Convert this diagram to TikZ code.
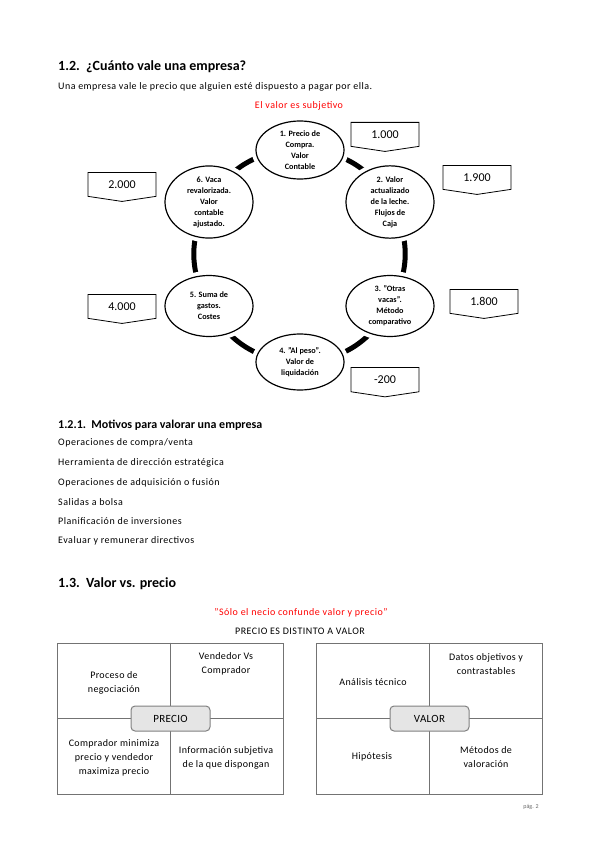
\documentclass[tikz,border=0pt]{standalone}
\usepackage{fontspec}
\setmainfont{Carlito}
\usetikzlibrary{positioning,shapes.geometric,shapes.symbols,backgrounds}

\begin{document}
\begin{tikzpicture}[
  x=1pt, y=-1pt,
  heading/.style={anchor=west, inner sep=0pt, font=\bfseries\fontsize{14}{16}\selectfont},
  subhead/.style={anchor=west, inner sep=0pt, font=\bfseries\fontsize{12}{14}\selectfont},
  body/.style={anchor=west, inner sep=0pt, font=\fontsize{10}{12}\selectfont\addfontfeatures{LetterSpace=4.5}},
  item/.style={anchor=west, inner sep=0pt, font=\fontsize{10}{12}\selectfont\addfontfeatures{LetterSpace=5}},
  redtext/.style={inner sep=0pt, text=red, font=\fontsize{10}{12}\selectfont\addfontfeatures{LetterSpace=5}},
  stage/.style={ellipse, draw, line width=1.2pt, fill=white, minimum width=88pt, minimum height=58pt,
    preaction={draw=white, line width=9pt},
    inner sep=0pt, align=center, font=\bfseries\fontsize{8.2}{11}\selectfont},
  valbox/.style={signal, signal to=south, signal pointer angle=163, draw, line width=0.8pt,
    minimum width=68pt, minimum height=26pt, anchor=north, inner sep=0pt, font=\fontsize{12}{14}\selectfont},
  link/.style={line width=5pt},
  frame/.style={draw=black!55, line width=0.8pt, minimum width=226pt, minimum height=151pt},
  quadline/.style={draw=black!55, line width=0.8pt},
  quadtext/.style={align=center, inner sep=0pt, font=\fontsize{10}{13.7}\selectfont\addfontfeatures{LetterSpace=3.5}},
  tag/.style={draw=black!50, line width=1pt, fill=black!10, rounded corners=4pt,
    minimum width=79pt, minimum height=25pt, font=\fontsize{11}{13}\selectfont\addfontfeatures{LetterSpace=3}}
]
\useasboundingbox (0,0) rectangle (599,848);

% Section 1.2
\node[heading] (h12) at (58,67) {1.2.\ \ ¿Cuánto vale una empresa?};
\node[body] (intro) at (58,87) {Una empresa vale le precio que alguien esté dispuesto a pagar por ella.};
\node[redtext] (subj) at (299,106) {El valor es subjetivo};

% Cycle
\node[stage] (s1) at (300,150) {1. Precio de\\Compra.\\Valor\\Contable};
\node[stage, minimum height=61pt] (s2) at (390,202) {2. Valor\\actualizado\\de la leche.\\Flujos de\\Caja};
\node[stage, minimum height=61pt] (s3) at (390,306) {3. "Otras\\vacas".\\Método\\comparativo};
\node[stage, minimum height=56pt] (s4) at (300,362) {4. "Al peso".\\Valor de\\liquidación};
\node[stage, minimum height=61pt] (s5) at (209,306) {5. Suma de\\gastos.\\Costes};
\node[stage] (s6) at (209,202) {6. Vaca\\revalorizada.\\Valor\\contable\\ajustado.};

% ring behind the stages
\begin{scope}[on background layer]
  \draw[link] (s1.center) to[bend left=30] (s2.center);
  \draw[link] (s2.center) to[bend left=30] (s3.center);
  \draw[link] (s3.center) to[bend left=30] (s4.center);
  \draw[link] (s4.center) to[bend left=30] (s5.center);
  \draw[link] (s5.center) to[bend left=30] (s6.center);
  \draw[link] (s6.center) to[bend left=30] (s1.center);
\end{scope}

% Values
\node[valbox] (v1) at (385,122) {1.000};
\node[valbox] (v2) at (477,165) {1.900};
\node[valbox] (v3) at (484,289) {1.800};
\node[valbox] (v4) at (385,367) {-200};
\node[valbox] (v5) at (122,294) {4.000};
\node[valbox] (v6) at (122,172) {2.000};

% Section 1.2.1
\node[subhead] (h121) at (58,425) {1.2.1.\ \ Motivos para valorar una empresa};
\node[item] (m1) at (58,443) {Operaciones de compra/venta};
\node[item] (m2) at (58,463) {Herramienta de dirección estratégica};
\node[item] (m3) at (58,483) {Operaciones de adquisición o fusión};
\node[item] (m4) at (58,502) {Salidas a bolsa};
\node[item] (m5) at (58,521) {Planificación de inversiones};
\node[item] (m6) at (58,541) {Evaluar y remunerar directivos};

% Section 1.3
\node[heading] (h13) at (58,584) {1.3.\ \ Valor vs. precio};
\node[redtext] (quote) at (301,613) {"Sólo el necio confunde valor y precio"};
\node[item, anchor=center] (dist) at (300,631) {PRECIO ES DISTINTO A VALOR};

% Precio
\node[frame] (pf) at (170.5,718.5) {};
\draw[quadline] (pf.north) -- (pf.south);
\draw[quadline] (pf.west) -- (pf.east);
\node[quadtext] (p1) at (114,683) {Proceso de\\negociación};
\node[quadtext] (p2) at (226,664) {Vendedor Vs\\Comprador};
\node[quadtext] (p3) at (114,758) {Comprador minimiza\\precio y vendedor\\maximiza precio};
\node[quadtext] (p4) at (226,758) {Información subjetiva\\de la que dispongan};
\node[tag] (precio) at (pf.center) {PRECIO};

% Valor
\node[frame] (vf) at (429.5,718.5) {};
\draw[quadline] (vf.north) -- (vf.south);
\draw[quadline] (vf.west) -- (vf.east);
\node[quadtext] (q1) at (373,682) {Análisis técnico};
\node[quadtext] (q2) at (486,664) {Datos objetivos y\\contrastables};
\node[quadtext] (q3) at (372,757) {Hipótesis};
\node[quadtext] (q4) at (486,757) {Métodos de\\valoración};
\node[tag] (valor) at (vf.center) {VALOR};

\node[inner sep=0pt, text=black!60, font=\fontsize{6}{7}\selectfont] (pag) at (531,807) {pág. 2};
\end{tikzpicture}
\end{document}
